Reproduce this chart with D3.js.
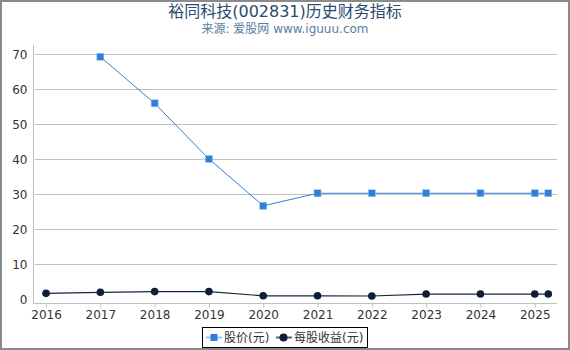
<!DOCTYPE html>
<html>
<head>
<meta charset="utf-8">
<script src="https://cdn.jsdelivr.net/npm/d3@7"></script>
<style>
  body { margin: 0; background: #fff; }
  svg { display: block; font-family: "DejaVu Sans", "Noto Sans CJK SC", sans-serif; }
</style>
</head>
<body>
<div id="chart"></div>
<script>
// data
const xPos = [2016, 2017, 2018, 2019, 2020, 2021, 2022, 2023, 2024, 2025, 2025.25];
const price = [null, 69.3, 56.0, 40.1, 26.7, 30.3, 30.3, 30.3, 30.3, 30.3, 30.3];
const eps = [1.7, 2.0, 2.2, 2.2, 1.0, 1.0, 0.95, 1.5, 1.5, 1.5, 1.5];
const xTicks = [2016, 2017, 2018, 2019, 2020, 2021, 2022, 2023, 2024, 2025];
const yTicks = [0, 10, 20, 30, 40, 50, 60, 70];

const W = 570, H = 350;
const svg = d3.select('#chart').append('svg')
    .attr('width', W).attr('height', H);

// outer frame
svg.append('rect')
    .attr('x', 1).attr('y', 1).attr('width', W - 2).attr('height', H - 2)
    .attr('fill', '#fff').attr('stroke', '#8a8a8a').attr('stroke-width', 2);

// titles
svg.append('text').attr('x', 285).attr('y', 17).attr('text-anchor', 'middle')
    .attr('font-size', 16).attr('fill', '#2c4a6e').text('裕同科技(002831)历史财务指标');
svg.append('text').attr('x', 285).attr('y', 33).attr('text-anchor', 'middle')
    .attr('font-size', 12).attr('fill', '#5b7ca3').text('来源: 爱股网 www.iguuu.com');

// scales
const x = d3.scaleLinear().domain([2015.76, 2025.41]).range([33, 557]);
const y = d3.scaleLinear().domain([0, 70]).range([299.3, 54.3]);

// grid lines
svg.append('g').selectAll('line').data(yTicks.filter(d => d > 0)).enter().append('line')
    .attr('x1', 35).attr('x2', 557)
    .attr('y1', d => Math.round(y(d)) + 0.5).attr('y2', d => Math.round(y(d)) + 0.5)
    .attr('stroke', '#c0c0c0').attr('stroke-width', 1);

// y axis
const yAxis = svg.append('g').attr('transform', 'translate(33.5,0)')
    .call(d3.axisLeft(y).tickValues(yTicks).tickSize(0).tickPadding(6).tickFormat(d3.format('d')));
yAxis.select('.domain').attr('stroke', '#c0c0c0').attr('d', 'M0,45V303.5');
yAxis.selectAll('text').attr('font-size', 12).attr('fill', '#333')
    .attr('font-family', '"DejaVu Sans", sans-serif');

// x axis
const xAxis = svg.append('g').attr('transform', 'translate(0,303.5)')
    .call(d3.axisBottom(x).tickValues(xTicks).tickSize(4).tickPadding(3).tickFormat(d3.format('d')));
xAxis.select('.domain').attr('stroke', '#c0c0c0').attr('d', 'M33,0H557');
xAxis.selectAll('.tick line').attr('stroke', '#c0c0c0');
xAxis.selectAll('text').attr('font-size', 12).attr('fill', '#333')
    .attr('font-family', '"DejaVu Sans", sans-serif');

// series
const priceData = xPos.map((v, i) => [v, price[i]]).filter(d => d[1] != null);
const epsData = xPos.map((v, i) => [v, eps[i]]);
const line = d3.line().x(d => x(d[0])).y(d => y(d[1]));

svg.append('path').datum(priceData).attr('d', line)
    .attr('fill', 'none').attr('stroke', '#2f7fd8').attr('stroke-width', 1);
svg.append('g').selectAll('rect').data(priceData).enter().append('rect')
    .attr('x', d => x(d[0]) - 3.5).attr('y', d => y(d[1]) - 3.5)
    .attr('width', 7).attr('height', 7)
    .attr('fill', '#2f7fd8').attr('stroke', '#9cc3ef').attr('stroke-width', 0.5);

svg.append('path').datum(epsData).attr('d', line)
    .attr('fill', 'none').attr('stroke', '#142440').attr('stroke-width', 1.2);
svg.append('g').selectAll('circle').data(epsData).enter().append('circle')
    .attr('cx', d => x(d[0])).attr('cy', d => y(d[1])).attr('r', 3.8)
    .attr('fill', '#0f1e38');

// legend
const lg = svg.append('g');
lg.append('rect').attr('x', 202.5).attr('y', 327.5).attr('width', 165).attr('height', 20)
    .attr('fill', '#fff').attr('stroke', '#000').attr('stroke-width', 1);
lg.append('line').attr('x1', 206).attr('x2', 222).attr('y1', 337.5).attr('y2', 337.5)
    .attr('stroke', '#9cc3ef').attr('stroke-width', 2);
lg.append('rect').attr('x', 210.5).attr('y', 334).attr('width', 7).attr('height', 7).attr('fill', '#2f7fd8');
lg.append('text').attr('x', 224).attr('y', 342).attr('font-size', 12).attr('fill', '#333').text('股价(元)');
lg.append('line').attr('x1', 276).attr('x2', 292).attr('y1', 337.5).attr('y2', 337.5)
    .attr('stroke', '#556377').attr('stroke-width', 2);
lg.append('circle').attr('cx', 283.5).attr('cy', 337.5).attr('r', 4).attr('fill', '#0f1e38');
lg.append('text').attr('x', 294).attr('y', 342).attr('font-size', 12).attr('fill', '#333').text('每股收益(元)');
</script>
</body>
</html>
